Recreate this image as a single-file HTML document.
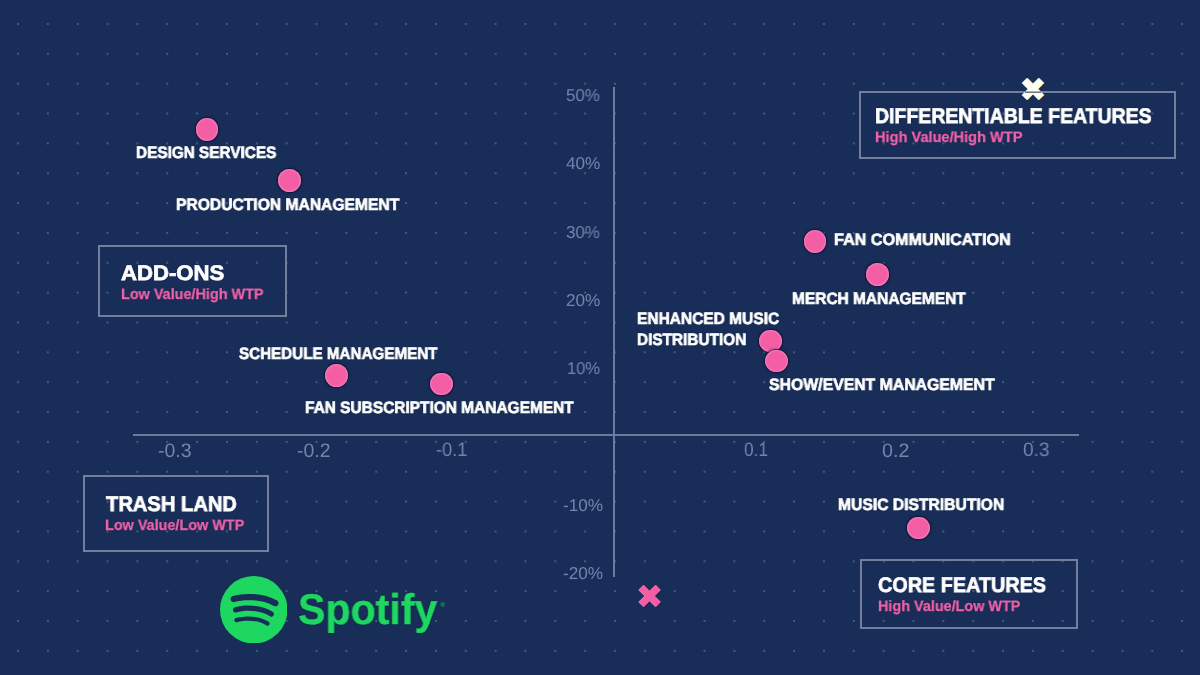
<!DOCTYPE html>
<html><head><meta charset="utf-8"><style>
html,body{margin:0;padding:0;}
body{width:1200px;height:675px;overflow:hidden;position:relative;background:#182e58;font-family:"Liberation Sans",sans-serif;}
.t,.k{position:absolute;white-space:nowrap;line-height:1;transform-origin:0 0;text-rendering:geometricPrecision;will-change:transform;}
.t{font-weight:bold;text-shadow:0 0 1.5px rgba(6,12,36,0.75);}
.k{color:#7384ad;}
.box{position:absolute;border:2px solid #737e9c;box-sizing:content-box;}
.dot{position:absolute;width:22.8px;height:22.8px;border-radius:50%;background:#f45ea4;box-shadow:inset 0 0 1.5px 1px rgba(250,160,225,0.45),0 0 0 1px rgba(18,14,50,0.55),0 0 2px 1.5px rgba(12,18,50,0.35);}
.vax{position:absolute;left:613px;top:86.5px;width:2.2px;height:490.5px;background:#6d7a9c;}
.hax{position:absolute;left:133px;top:434px;width:946px;height:2.2px;background:#6d7a9c;}
</style></head><body>
<svg style="position:absolute;left:0;top:0" width="1200" height="675">
<defs><pattern id="g" x="3.075" y="9.075" width="29.85" height="29.85" patternUnits="userSpaceOnUse">
<circle cx="14.925" cy="14.925" r="0.9" fill="#8d9cc4" fill-opacity="0.55"/></pattern></defs>
<rect width="1200" height="675" fill="url(#g)"/></svg>
<div class="vax"></div><div class="hax"></div>
<div class="box" style="left:858.7px;top:91.3px;width:313.4px;height:63.3px"></div><div class="box" style="left:98.2px;top:245.3px;width:184.6px;height:67.5px"></div><div class="box" style="left:83.3px;top:474.8px;width:181.4px;height:73.0px"></div><div class="box" style="left:859.8px;top:558.8px;width:214.5px;height:66.0px"></div>
<div class="dot" style="left:195.60px;top:118.10px"></div><div class="dot" style="left:277.80px;top:169.30px"></div><div class="dot" style="left:325.20px;top:364.40px"></div><div class="dot" style="left:429.90px;top:372.65px"></div><div class="dot" style="left:803.55px;top:229.90px"></div><div class="dot" style="left:866.30px;top:263.30px"></div><div class="dot" style="left:759.10px;top:329.70px"></div><div class="dot" style="left:765.30px;top:349.70px"></div><div class="dot" style="left:907.30px;top:516.60px"></div>
<div class="t" style="left:135.71px;top:145.28px;font-size:16.5px;letter-spacing:0.0em;color:#ffffff;-webkit-text-stroke:0.7px #ffffff;transform:scaleX(0.9294)">DESIGN SERVICES</div><div class="t" style="left:176.39px;top:196.68px;font-size:16.5px;letter-spacing:0.0em;color:#ffffff;-webkit-text-stroke:0.7px #ffffff;transform:scaleX(0.9478)">PRODUCTION MANAGEMENT</div><div class="t" style="left:239.22px;top:345.68px;font-size:16.5px;letter-spacing:0.0em;color:#ffffff;-webkit-text-stroke:0.7px #ffffff;transform:scaleX(0.9213)">SCHEDULE MANAGEMENT</div><div class="t" style="left:305.20px;top:399.88px;font-size:16.5px;letter-spacing:0.0em;color:#ffffff;-webkit-text-stroke:0.7px #ffffff;transform:scaleX(0.9364)">FAN SUBSCRIPTION MANAGEMENT</div><div class="t" style="left:833.57px;top:232.08px;font-size:16.5px;letter-spacing:0.0em;color:#ffffff;-webkit-text-stroke:0.7px #ffffff;transform:scaleX(0.9808)">FAN COMMUNICATION</div><div class="t" style="left:791.50px;top:291.48px;font-size:16.5px;letter-spacing:0.0em;color:#ffffff;-webkit-text-stroke:0.7px #ffffff;transform:scaleX(0.9380)">MERCH MANAGEMENT</div><div class="t" style="left:637.40px;top:311.48px;font-size:16.5px;letter-spacing:0.0em;color:#ffffff;-webkit-text-stroke:0.7px #ffffff;transform:scaleX(0.9402)">ENHANCED MUSIC</div><div class="t" style="left:637.40px;top:331.68px;font-size:16.5px;letter-spacing:0.0em;color:#ffffff;-webkit-text-stroke:0.7px #ffffff;transform:scaleX(0.9309)">DISTRIBUTION</div><div class="t" style="left:769.02px;top:376.78px;font-size:16.5px;letter-spacing:0.0em;color:#ffffff;-webkit-text-stroke:0.7px #ffffff;transform:scaleX(0.9579)">SHOW/EVENT MANAGEMENT</div><div class="t" style="left:837.64px;top:497.48px;font-size:16.5px;letter-spacing:0.0em;color:#ffffff;-webkit-text-stroke:0.7px #ffffff;transform:scaleX(0.9493)">MUSIC DISTRIBUTION</div><div class="t" style="left:874.88px;top:105.96px;font-size:21.1px;letter-spacing:0.0em;color:#ffffff;-webkit-text-stroke:0.75px #ffffff;transform:scaleX(0.9233)">DIFFERENTIABLE FEATURES</div><div class="t" style="left:121.25px;top:263.06px;font-size:21.1px;letter-spacing:0.0em;color:#ffffff;-webkit-text-stroke:0.75px #ffffff;transform:scaleX(1.0499)">ADD-ONS</div><div class="t" style="left:105.66px;top:493.96px;font-size:21.1px;letter-spacing:0.0em;color:#ffffff;-webkit-text-stroke:0.75px #ffffff;transform:scaleX(0.9547)">TRASH LAND</div><div class="t" style="left:877.96px;top:574.66px;font-size:21.1px;letter-spacing:0.0em;color:#ffffff;-webkit-text-stroke:0.75px #ffffff;transform:scaleX(0.9394)">CORE FEATURES</div><div class="t" style="left:874.57px;top:129.65px;font-size:15.0px;letter-spacing:0.0em;color:#ee63ac;-webkit-text-stroke:0.3px #ee63ac;transform:scaleX(0.9720)">High Value/High WTP</div><div class="t" style="left:120.98px;top:286.85px;font-size:15.0px;letter-spacing:0.0em;color:#ee63ac;-webkit-text-stroke:0.3px #ee63ac;transform:scaleX(0.9611)">Low Value/High WTP</div><div class="t" style="left:104.78px;top:518.15px;font-size:15.0px;letter-spacing:0.0em;color:#ee63ac;-webkit-text-stroke:0.3px #ee63ac;transform:scaleX(0.9604)">Low Value/Low WTP</div><div class="t" style="left:877.68px;top:598.75px;font-size:15.0px;letter-spacing:0.0em;color:#ee63ac;-webkit-text-stroke:0.3px #ee63ac;transform:scaleX(0.9597)">High Value/Low WTP</div><div class="k" style="left:566.07px;top:86.95px;font-size:17.2px;transform:scaleX(0.9854)">50%</div><div class="k" style="left:566.16px;top:155.25px;font-size:17.2px;transform:scaleX(0.9902)">40%</div><div class="k" style="left:566.19px;top:223.55px;font-size:17.2px;transform:scaleX(0.9848)">30%</div><div class="k" style="left:565.84px;top:291.85px;font-size:17.2px;transform:scaleX(0.9951)">20%</div><div class="k" style="left:567.09px;top:360.35px;font-size:17.2px;transform:scaleX(0.9627)">10%</div><div class="k" style="left:562.82px;top:496.65px;font-size:17.2px;transform:scaleX(0.9945)">-10%</div><div class="k" style="left:563.07px;top:565.35px;font-size:17.2px;transform:scaleX(0.9881)">-20%</div><div class="k" style="left:157.53px;top:441.62px;font-size:19.5px;transform:scaleX(0.9870)">-0.3</div><div class="k" style="left:296.73px;top:441.62px;font-size:19.5px;transform:scaleX(0.9931)">-0.2</div><div class="k" style="left:436.27px;top:441.42px;font-size:19.5px;transform:scaleX(0.9320)">-0.1</div><div class="k" style="left:743.73px;top:441.47px;font-size:19.5px;transform:scaleX(0.8879)">0.1</div><div class="k" style="left:882.16px;top:441.72px;font-size:19.5px;transform:scaleX(1.0147)">0.2</div><div class="k" style="left:1023.18px;top:441.32px;font-size:19.5px;transform:scaleX(0.9780)">0.3</div>
<svg style="position:absolute;left:219.5px;top:575.75px" width="67.5" height="67.5" viewBox="0 0 168 168">
<circle cx="84" cy="84" r="84" fill="#1ed760"/>
<path d="M134.1 74.5C107 58.4 62.4 56.9 36.5 64.8c-4.1 1.3-8.5-1.1-9.8-5.2-1.3-4.2 1.1-8.5 5.2-9.8 29.8-9 79-7.3 110.1 11.2 3.7 2.2 4.9 7 2.7 10.7-2.2 3.8-7 5-10.6 2.8zm-.9 23.8c-1.9 3-5.8 4-8.8 2.1-22.6-13.9-57-17.9-83.7-9.8-3.5 1-7.1-.9-8.2-4.4-1-3.5.9-7.1 4.4-8.2 30.5-9.3 68.4-4.8 94.3 11.1 3.1 1.9 4 5.9 2 9.2zm-10.3 22.9c-1.5 2.5-4.7 3.2-7.2 1.7-19.7-12-44.5-14.7-73.7-8.1-2.8.7-5.6-1.1-6.3-3.9-.7-2.8 1.1-5.6 3.9-6.3 31.9-7.3 59.3-4.2 81.4 9.3 2.5 1.5 3.3 4.8 1.9 7.3z" fill="#182e58"/>
</svg>
<div class="t" style="left:297.9px;top:588.6px;font-size:43px;color:#1ed760;-webkit-text-stroke:0.4px #1ed760;transform:scaleX(0.956)">Spotify</div>
<div style="position:absolute;left:440.5px;top:601.5px;font-size:6px;line-height:1;color:#1ed760">&#174;</div>
<svg style="position:absolute;left:1017.15px;top:74px" width="32" height="30" viewBox="0 0 32 30">
<g stroke-width="7.2" stroke-linecap="butt">
<path d="M7.6 6.4L24.3 23.5M24.3 6.4L7.6 23.5" stroke="#0b1838" opacity="0.6" transform="translate(0.9,0.9)"/>
<path d="M7.6 6.4L24.3 23.5M24.3 6.4L7.6 23.5" stroke="#f2b347" transform="translate(0.7,0)"/>
<path d="M7.6 6.4L24.3 23.5M24.3 6.4L7.6 23.5" stroke="#7fc8ff" transform="translate(-0.5,0)"/>
<path d="M7.6 6.4L24.3 23.5M24.3 6.4L7.6 23.5" stroke="#fffdf4"/>
</g>
<rect x="8" y="17.6" width="16" height="1.1" fill="#101c3c" opacity="0.85"/>
</svg>
<svg style="position:absolute;left:634px;top:581px" width="32" height="30" viewBox="0 0 32 30">
<g stroke-width="7" stroke-linecap="butt">
<path d="M7.5 6.5L24.5 23.5M24.5 6.5L7.5 23.5" stroke="#0b1838" opacity="0.6" transform="translate(0.8,0.8)"/>
<path d="M7.5 6.5L24.5 23.5M24.5 6.5L7.5 23.5" stroke="#e985d8" transform="translate(-0.7,0)"/>
<path d="M7.5 6.5L24.5 23.5M24.5 6.5L7.5 23.5" stroke="#f45ea4"/>
</g>
</svg>
</body></html>
